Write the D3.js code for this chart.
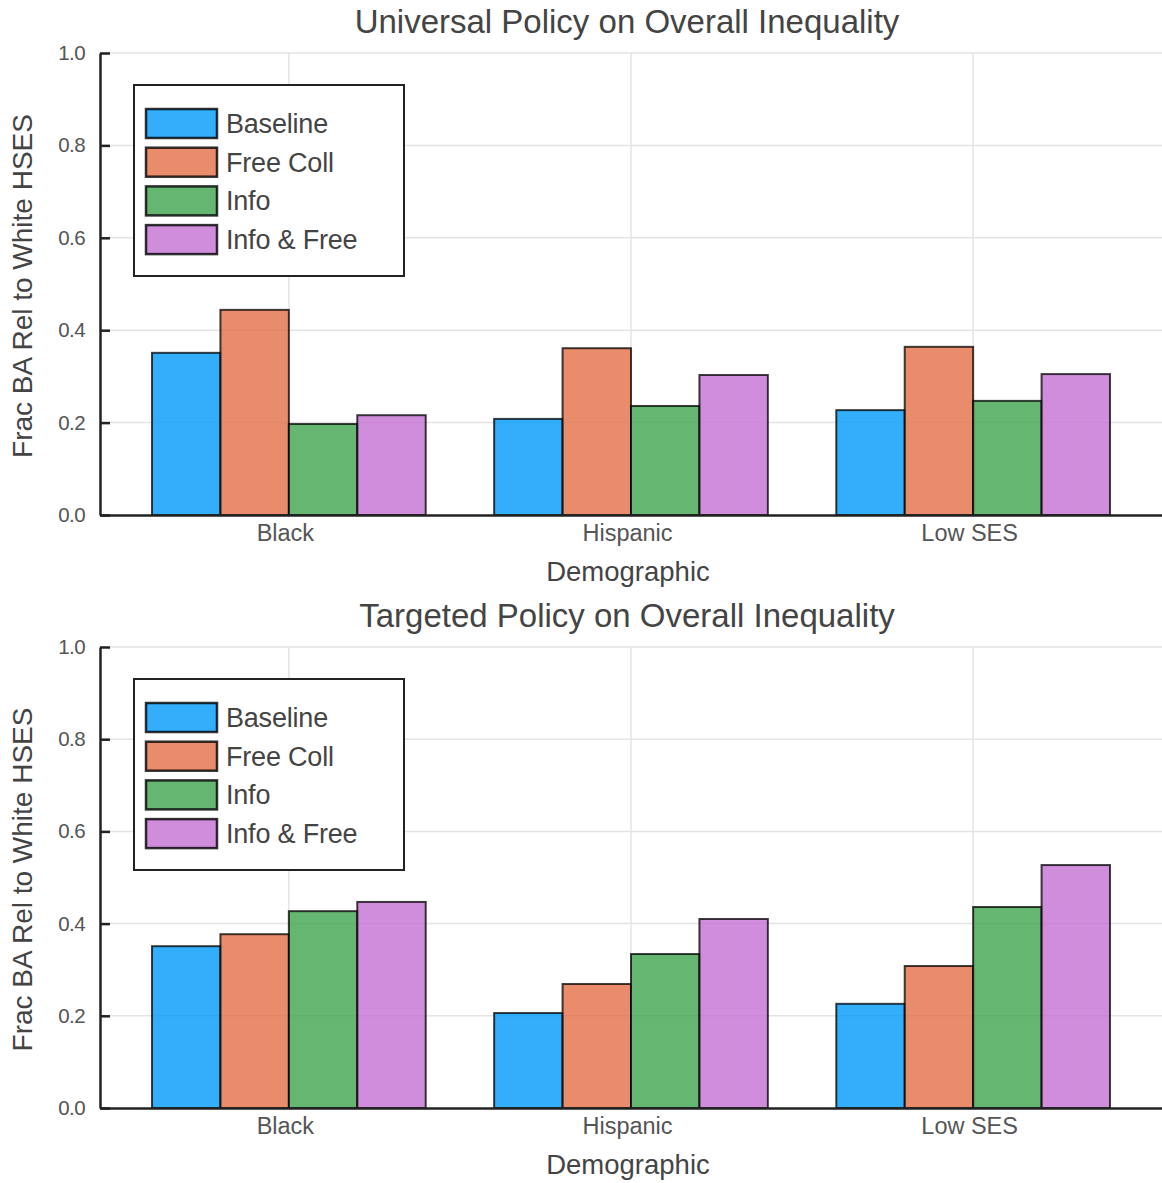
<!DOCTYPE html>
<html><head><meta charset="utf-8">
<script src="https://cdn.jsdelivr.net/npm/d3@7"></script>
<style>
body{margin:0;background:#fff;}
text{font-family:"Liberation Sans",Arial,sans-serif;}
</style></head>
<body>
<svg id="chart" width="1162" height="1183"></svg>
<script>
const categories = ["Black", "Hispanic", "Low SES"];
const seriesNames = ["Baseline", "Free Coll", "Info", "Info & Free"];
const seriesColors = ["#009AFA", "#E36F47", "#3EA44E", "#C371D2"];
const yTicks = [0.0, 0.2, 0.4, 0.6, 0.8, 1.0];
const titles = ["Universal Policy on Overall Inequality", "Targeted Policy on Overall Inequality"];
// values[series][category]
const universalValues = [
  [0.351, 0.208, 0.227],
  [0.444, 0.361, 0.364],
  [0.197, 0.236, 0.247],
  [0.216, 0.303, 0.305]
];
const targetedValues = [
  [0.351, 0.206, 0.226],
  [0.377, 0.269, 0.308],
  [0.427, 0.334, 0.436],
  [0.447, 0.410, 0.527]
];

const svg = d3.select("#chart");
const left = 100, right = 1162;

function drawPanel(top, bottom, title, values) {
  const g = svg.append("g");
  const x = d3.scaleLinear().domain([-0.052, 3.052]).range([left, right]);
  const y = d3.scaleLinear().domain([0, 1]).range([bottom, top]);
  const barW = 0.8 / seriesNames.length;

  // grid
  g.selectAll(".hg").data(yTicks.filter(d => d > 0)).enter().append("line")
    .attr("x1", left).attr("x2", right)
    .attr("y1", d => y(d)).attr("y2", d => y(d))
    .attr("stroke", "#e4e4e4").attr("stroke-width", 1.5);
  g.selectAll(".vg").data(categories).enter().append("line")
    .attr("x1", (d, i) => x(i + 0.5)).attr("x2", (d, i) => x(i + 0.5))
    .attr("y1", top).attr("y2", bottom)
    .attr("stroke", "#e4e4e4").attr("stroke-width", 1.5);

  // bars
  seriesNames.forEach((s, si) => {
    g.selectAll(".b" + si).data(values[si]).enter().append("rect")
      .attr("x", (d, ci) => x(ci + 0.1 + si * barW))
      .attr("width", x(barW) - x(0))
      .attr("y", d => y(d))
      .attr("height", d => y(0) - y(d))
      .attr("fill", seriesColors[si]).attr("fill-opacity", 0.8)
      .attr("stroke", "#000").attr("stroke-opacity", 0.75).attr("stroke-width", 2);
  });

  // axes
  const yAxis = d3.axisLeft(y).tickValues(yTicks).tickFormat(d3.format(".1f")).tickSizeInner(-10).tickSizeOuter(0).tickPadding(15);
  const ya = g.append("g").attr("transform", `translate(${left},0)`).call(yAxis);
  ya.select(".domain").attr("stroke", "#222").attr("stroke-width", 2.5);
  ya.selectAll(".tick line").attr("stroke", "#222").attr("stroke-width", 2.5);
  ya.selectAll(".tick text").attr("font-size", 20.5).attr("fill", "#555").attr("font-family", "Liberation Sans, Arial, sans-serif").attr("letter-spacing", -0.6);

  const xAxis = d3.axisBottom(x).tickValues([0.5, 1.5, 2.5]).tickFormat((d, i) => categories[i]).tickSize(0).tickPadding(9);
  const xa = g.append("g").attr("transform", `translate(0,${bottom})`).call(xAxis);
  xa.select(".domain").attr("stroke", "#222").attr("stroke-width", 2.5);
  xa.selectAll(".tick text").attr("font-size", 23.5).attr("fill", "#555").attr("dx", -4).attr("font-family", "Liberation Sans, Arial, sans-serif");

  // labels
  g.append("text").attr("x", 627).attr("y", top - 20).attr("text-anchor", "middle")
    .attr("font-size", 33).attr("fill", "#444").text(title);
  g.append("text").attr("x", 628).attr("y", bottom + 66).attr("text-anchor", "middle")
    .attr("font-size", 27.5).attr("fill", "#444").text("Demographic");
  g.append("text").attr("transform", `translate(32,${(top + bottom) / 2 + 2}) rotate(-90)`).attr("text-anchor", "middle")
    .attr("font-size", 28).attr("fill", "#444").text("Frac BA Rel to White HSES");

  // legend
  const lx = 134, ly = top + 32;
  g.append("rect").attr("x", lx).attr("y", ly).attr("width", 270).attr("height", 191)
    .attr("fill", "#fff").attr("stroke", "#222").attr("stroke-width", 2);
  seriesNames.forEach((s, si) => {
    const yy = ly + 24 + si * 38.7;
    g.append("rect").attr("x", lx + 12).attr("y", yy).attr("width", 71).attr("height", 29)
      .attr("fill", seriesColors[si]).attr("fill-opacity", 0.8)
      .attr("stroke", "#000").attr("stroke-opacity", 0.8).attr("stroke-width", 2.5);
    g.append("text").attr("x", lx + 92).attr("y", yy + 24).attr("font-size", 27)
      .attr("fill", "#444").attr("letter-spacing", -0.2).text(s);
  });
}

drawPanel(53, 515, titles[0], universalValues);
drawPanel(647, 1108, titles[1], targetedValues);
</script>
</body></html>
